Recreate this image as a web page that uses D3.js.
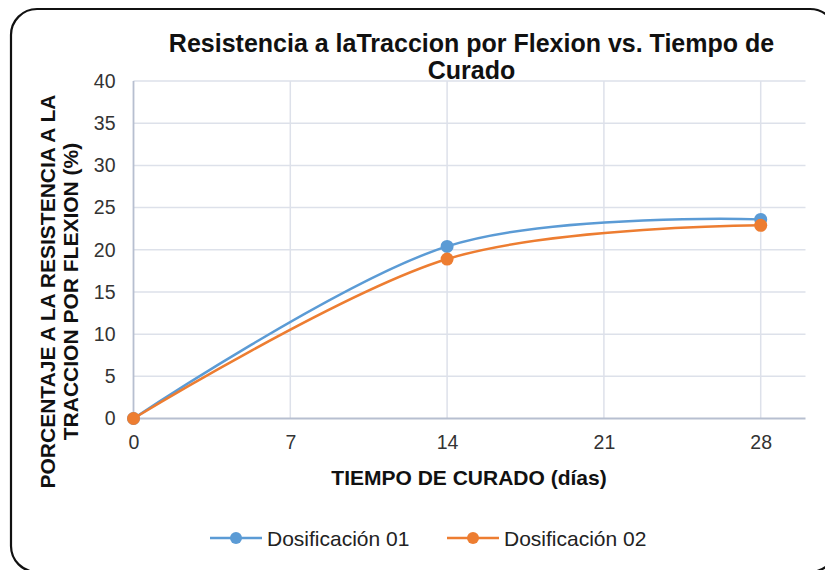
<!DOCTYPE html>
<html>
<head>
<meta charset="utf-8">
<script src="https://cdn.jsdelivr.net/npm/d3@7"></script>
<style>
  html, body { margin: 0; padding: 0; background: #fff; }
  svg { display: block; font-family: "Liberation Sans", Arial, sans-serif; }
</style>
</head>
<body>
<svg id="chart" width="825" height="570"></svg>
<script>
// Curing time (days) and flexural tensile strength percentages
const dias = [0, 14, 28];
const dosificacion01 = [0, 20.4, 23.6];
const dosificacion02 = [0, 18.9, 22.9];
const xTicks = [0, 7, 14, 21, 28];
const yTicks = [0, 5, 10, 15, 20, 25, 30, 35, 40];
const seriesNames = ["Dosificación 01", "Dosificación 02"];
const seriesColors = ["#5b9bd5", "#ed7d31"];

const svg = d3.select("#chart");

// outer rounded frame
svg.append("rect")
  .attr("x", 11).attr("y", 9)
  .attr("width", 825).attr("height", 563)
  .attr("rx", 26).attr("ry", 26)
  .attr("fill", "#fff").attr("stroke", "#111").attr("stroke-width", 2.2);

const x = d3.scaleLinear().domain([0, 30]).range([133.5, 805.5]);
const y = d3.scaleLinear().domain([0, 40]).range([418.5, 81]);

// gridlines
const grid = svg.append("g");
grid.selectAll("line.h").data(yTicks.filter(d => d > 0)).join("line")
  .attr("x1", x(0)).attr("x2", x(30))
  .attr("y1", d => y(d)).attr("y2", d => y(d))
  .attr("stroke", "#dde1ea").attr("stroke-width", 1.5);
grid.selectAll("line.v").data(xTicks.filter(d => d > 0)).join("line")
  .attr("x1", d => x(d)).attr("x2", d => x(d))
  .attr("y1", y(0)).attr("y2", y(40))
  .attr("stroke", "#dde1ea").attr("stroke-width", 1.5);

// axes
const xAxis = svg.append("g").attr("transform", `translate(0,${y(0)})`)
  .call(d3.axisBottom(x).tickValues(xTicks).tickSize(0).tickPadding(17));
const yAxis = svg.append("g").attr("transform", `translate(${x(0)},0)`)
  .call(d3.axisLeft(y).tickValues(yTicks).tickSize(0).tickPadding(18));
[xAxis, yAxis].forEach(a => {
  a.select(".domain").attr("stroke", "#b7bfd0").attr("stroke-width", 1.8);
  a.selectAll("text").attr("font-size", 19.5).attr("fill", "#333")
    .attr("font-family", "'Liberation Sans', Arial, sans-serif");
});
xAxis.select(".domain").attr("d", `M${x(0)},0H${x(30)}`);
yAxis.select(".domain").attr("d", `M0,${y(0)}V${y(40)}`);

// series
const line = d3.line()
  .x(d => x(d[0])).y(d => y(d[1]))
  .curve(d3.curveCatmullRom.alpha(0));

const allSeries = [dosificacion01, dosificacion02];
allSeries.forEach((vals, i) => {
  const pts = dias.map((d, j) => [d, vals[j]]);
  svg.append("path").datum(pts)
    .attr("d", line).attr("fill", "none")
    .attr("stroke", seriesColors[i]).attr("stroke-width", 2.5);
  svg.append("g").selectAll("circle").data(pts).join("circle")
    .attr("cx", d => x(d[0])).attr("cy", d => y(d[1]))
    .attr("r", 6.5).attr("fill", seriesColors[i]);
});

// title
const title = svg.append("text")
  .attr("text-anchor", "middle").attr("font-weight", "bold")
  .attr("font-size", 25).attr("fill", "#111");
title.append("tspan").attr("x", 471.5).attr("y", 52)
  .text("Resistencia a laTraccion por Flexion vs. Tiempo de");
title.append("tspan").attr("x", 471.5).attr("y", 79).text("Curado");

// x axis title
svg.append("text")
  .attr("x", 469).attr("y", 485)
  .attr("text-anchor", "middle").attr("font-weight", "bold")
  .attr("font-size", 21).attr("fill", "#111")
  .text("TIEMPO  DE CURADO (días)");

// y axis title
const yt = svg.append("text")
  .attr("transform", "translate(0,291.5) rotate(-90)")
  .attr("text-anchor", "middle").attr("font-weight", "bold")
  .attr("font-size", 21).attr("fill", "#111");
yt.append("tspan").attr("x", 0).attr("y", 55).text("PORCENTAJE  A LA RESISTENCIA  A LA");
yt.append("tspan").attr("x", 0).attr("y", 78).text("TRACCION POR FLEXION (%)");

// legend
const legendX = [210, 447];
seriesNames.forEach((name, i) => {
  const g = svg.append("g").attr("transform", `translate(${legendX[i]},538)`);
  g.append("line").attr("x1", 0).attr("x2", 52).attr("y1", 0).attr("y2", 0)
    .attr("stroke", seriesColors[i]).attr("stroke-width", 2.5);
  g.append("circle").attr("cx", 26).attr("cy", 0).attr("r", 6).attr("fill", seriesColors[i]);
  g.append("text").attr("x", 57).attr("y", 7.5)
    .attr("font-size", 21).attr("fill", "#222").text(name);
});
</script>
</body>
</html>
